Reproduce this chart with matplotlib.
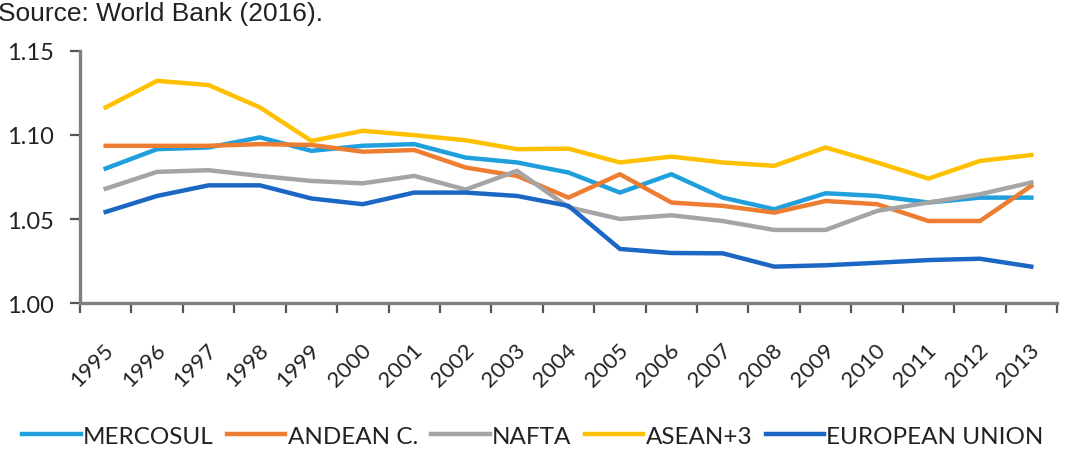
import matplotlib.pyplot as plt
import matplotlib.transforms as mtransforms
import numpy as np

# data
years = [str(y) for y in range(1995, 2014)]
mercosul = [1.080, 1.0915, 1.0925, 1.0985, 1.0905, 1.0935, 1.0945, 1.0865, 1.0836, 1.0776,
            1.0657, 1.0766, 1.0627, 1.0558, 1.0653, 1.0637, 1.0598, 1.0627, 1.0627]
andean = [1.0935, 1.0935, 1.0935, 1.0945, 1.094, 1.090, 1.091, 1.0806, 1.0756, 1.0627,
          1.0766, 1.0598, 1.0578, 1.0538, 1.0607, 1.0588, 1.0488, 1.0488, 1.0697]
nafta = [1.068, 1.078, 1.079, 1.0756, 1.0726, 1.0712, 1.0756, 1.0675, 1.0786, 1.057,
         1.050, 1.0522, 1.0488, 1.0435, 1.0435, 1.0548, 1.0598, 1.0647, 1.0717]
asean3 = [1.1163, 1.1321, 1.1296, 1.1163, 1.0964, 1.1024, 1.0998, 1.0968, 1.0915, 1.0918,
          1.0836, 1.0871, 1.0836, 1.0816, 1.0925, 1.0836, 1.074, 1.0845, 1.088]
eu = [1.0542, 1.0637, 1.070, 1.070, 1.0622, 1.0588, 1.0657, 1.0657, 1.0637, 1.0578,
      1.0322, 1.0298, 1.0296, 1.0217, 1.0225, 1.024, 1.0256, 1.0264, 1.0217]

series = [("MERCOSUL", mercosul, "#1fa0dc"),
          ("ANDEAN C.", andean, "#ed7d31"),
          ("NAFTA", nafta, "#a5a5a5"),
          ("ASEAN+3", asean3, "#ffc000"),
          ("EUROPEAN UNION", eu, "#1c66c4")]

plt.rcParams['font.family'] = ['Lato', 'DejaVu Sans']

fig = plt.figure(figsize=(10.66, 4.56), dpi=100)
ax = fig.add_axes([0.075, 0.333, 0.9166, 0.5536])

x = np.arange(len(years))
for name, vals, col in series:
    ax.plot(x, vals, color=col, lw=3.2, label=name, solid_joinstyle='round')

ax.set_xlim(-0.5, len(years) - 0.5)
ax.set_ylim(1.00, 1.15)
ax.set_yticks([1.00, 1.05, 1.10, 1.15])
ax.set_yticklabels(['1.00', '1.05', '1.10', '1.15'], fontsize=17, color='#222222')

# ticks between categories, labels at centres
ax.set_xticks(np.arange(-0.5, len(years)), minor=False)
ax.set_xticklabels([])
ax.set_xticks(x, minor=True)
ax.set_xticklabels(years, minor=True, rotation=45, ha='right',
                   rotation_mode='anchor', fontsize=16, color='#222222')
ax.tick_params(axis='x', which='minor', length=0, pad=26)
ax.tick_params(axis='x', which='major', length=7, width=1.6, color='#555555', direction='out')
ax.tick_params(axis='y', length=7, width=1.6, color='#555555', direction='out', pad=12)
for lab in ax.get_xticklabels(minor=True):
    lab.set_transform(lab.get_transform() + mtransforms.ScaledTranslation(-0.02, 0, fig.dpi_scale_trans))

for s in ['top', 'right']:
    ax.spines[s].set_visible(False)
for s in ['left', 'bottom']:
    ax.spines[s].set_color('#808080')
    ax.spines[s].set_linewidth(2.4)

fig.text(-0.002, 0.995, 'Source: World Bank (2016).', fontsize=19, va='top', ha='left',
         color='#222222', family=['Liberation Sans', 'DejaVu Sans'])

fig.legend(loc='lower center', bbox_to_anchor=(0.50, -0.03), ncol=5, frameon=False,
           fontsize=17.5, handlelength=2.4, handletextpad=0.1, columnspacing=0.55,
           labelcolor='#222222')

fig.savefig('out.png', dpi=100)
